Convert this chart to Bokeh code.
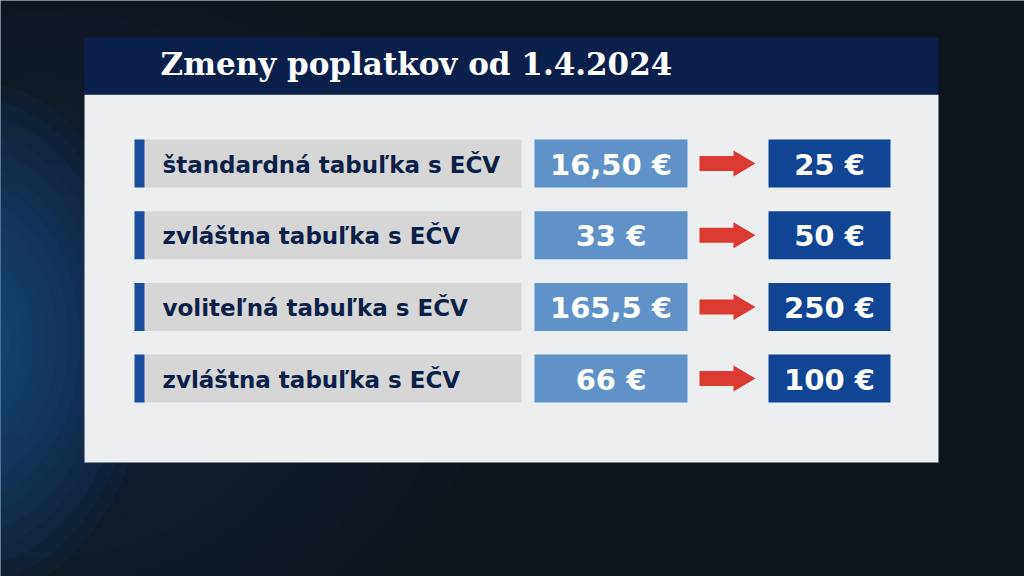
from bokeh.plotting import figure
from bokeh.models import Range1d
from bokeh.core.properties import value
from bokeh.embed import file_html
from bokeh.resources import INLINE

# ---- data ----
title = "Zmeny poplatkov od 1.4.2024"
labels = ["štandardná tabuľka s EČV", "zvláštna tabuľka s EČV",
          "voliteľná tabuľka s EČV", "zvláštna tabuľka s EČV"]
old_fees = ["16,50 €", "33 €", "165,5 €", "66 €"]
new_fees = ["25 €", "50 €", "250 €", "100 €"]

# ---- layout (pixel coordinates of the 1024x576 frame) ----
W, H = 1024, 576
p = figure(width=W, height=H, x_range=Range1d(0, W), y_range=Range1d(H, 0),
           output_backend="svg", toolbar_location=None, min_border=0)
p.axis.visible = False
p.grid.visible = False
p.outline_line_color = None
p.background_fill_color = "#0e141c"
p.border_fill_color = "#0e141c"

# broad dark-blue tint and a soft blue glow on the left edge
for k in range(10):
    s = 1.0 - k * 0.08
    p.ellipse(x=[40], y=[330], width=[900 * s], height=[760 * s],
              fill_color="#123a66", fill_alpha=0.04, line_color=None)
for k in range(14):
    s = 1.0 - k * 0.065
    p.ellipse(x=[-30], y=[340], width=[360 * s], height=[520 * s],
              fill_color="#1a64ad", fill_alpha=0.06, line_color=None)

# panel and title bar
p.quad(left=[84], right=[938], top=[94], bottom=[462], fill_color="#eceef0", line_color=None)
p.quad(left=[84], right=[938], top=[37], bottom=[94], fill_color="#0b1f4c", line_color=None)
p.text(x=[160], y=[63], text=[title], text_color="white", text_font=value("DejaVu Serif"),
       text_font_style="bold", text_font_size="31px", text_align="left", text_baseline="middle")

n = len(labels)
top0, step, hgt = 139, 71.7, 48
tops = [top0 + i * step for i in range(n)]
bots = [t + hgt for t in tops]
mids = [t + hgt / 2 for t in tops]

# label boxes
p.quad(left=[144] * n, right=[521] * n, top=tops, bottom=bots, fill_color="#d6d6d6", line_color=None)
p.quad(left=[134] * n, right=[144] * n, top=tops, bottom=bots, fill_color="#1a4c9c", line_color=None)
p.text(x=[162] * n, y=[m + 1 for m in mids], text=labels, text_color="#0c1f46",
       text_font=value("DejaVu Sans"), text_font_style="bold", text_font_size="23px",
       text_align="left", text_baseline="middle")

# old fee boxes
p.quad(left=[534] * n, right=[687] * n, top=tops, bottom=bots, fill_color="#5e92c8", line_color=None)
p.text(x=[610.5] * n, y=[m + 1 for m in mids], text=old_fees, text_color="white",
       text_font=value("DejaVu Sans"), text_font_style="bold", text_font_size="29px",
       text_align="center", text_baseline="middle")

# arrows
xs, ys = [], []
for m in mids:
    xs.append([699, 733, 733, 755, 733, 733, 699])
    ys.append([m - 7.5, m - 7.5, m - 13, m, m + 13, m + 7.5, m + 7.5])
p.patches(xs=xs, ys=ys, fill_color="#db3a30", line_color=None)

# new fee boxes
p.quad(left=[768] * n, right=[890] * n, top=tops, bottom=bots, fill_color="#0f4592", line_color=None)
p.text(x=[829] * n, y=[m + 1 for m in mids], text=new_fees, text_color="white",
       text_font=value("DejaVu Sans"), text_font_style="bold", text_font_size="29px",
       text_align="center", text_baseline="middle")

open("out.html", "w").write(file_html(p, INLINE))
